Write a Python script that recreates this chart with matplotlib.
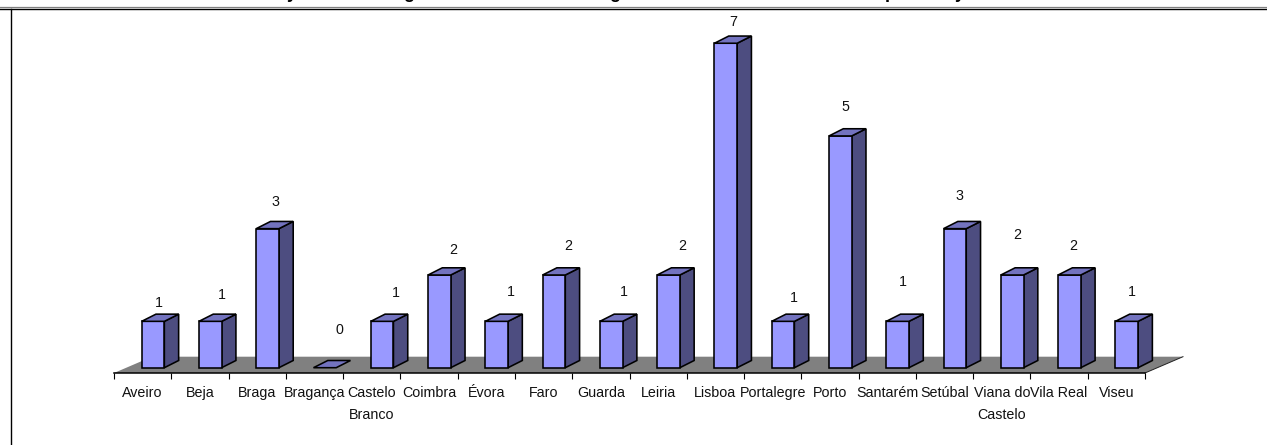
import matplotlib
matplotlib.use('Agg')
import matplotlib.pyplot as plt
from matplotlib.patches import Polygon
from matplotlib.lines import Line2D

W, H = 1267, 445

districts = ['Aveiro', 'Beja', 'Braga', 'Bragança', 'Castelo\nBranco', 'Coimbra', 'Évora', 'Faro',
             'Guarda', 'Leiria', 'Lisboa', 'Portalegre', 'Porto', 'Santarém', 'Setúbal',
             'Viana do\nCastelo', 'Vila Real', 'Viseu']
counts = [1, 1, 3, 0, 1, 2, 1, 2, 1, 2, 7, 1, 5, 1, 3, 2, 2, 1]

# the data labels sit at odd places in the original, offsets in pixels from the bar top
label_dx = [6, 12, 8, 15, 14, 14, 14, 14, 13, 14, 7, 11, 5, 5.5, 5, 5, 4, 5]
label_dy = [18, 26, 27, 38, 28, 25, 29, 29, 29, 29, 21, 23, 29, 39, 33, 40, 29, 29]

# what is left of the title, only the descenders show above the frame
title_letters = ['y', 'g', 'g', 'p', 'y']
title_x = [292, 409, 615, 890, 960]

plt.rcParams['font.family'] = ['Liberation Sans', 'DejaVu Sans']

fig = plt.figure(figsize=(W / 100, H / 100), dpi=100)

# axes box in pixels
x_left, x_right = 114, 1145
y_axis, y_top = 373, 8
px_x = (x_right - x_left) / len(districts)
px_y = 46.35
y_zero = 367.7

ax = fig.add_axes([x_left / W, 1 - y_axis / H, (x_right - x_left) / W, (y_axis - y_top) / H])
ax.set_xlim(0, len(districts))
ax.set_ylim(-(y_axis - y_zero) / px_y, (y_zero - y_top) / px_y)
ax.patch.set_visible(False)
for s in ['top', 'left', 'right']:
    ax.spines[s].set_visible(False)
ax.spines['bottom'].set_linewidth(1.1)
ax.yaxis.set_visible(False)

ax.set_xticks(range(len(districts) + 1))
ax.set_xticklabels([])
ax.tick_params(axis='x', which='major', length=4.3, width=0.8)
ax.set_xticks([i + 0.5 for i in range(len(districts))], minor=True)
ax.set_xticklabels(districts, minor=True, fontsize=10.3, color='#111111', linespacing=1.75)
ax.tick_params(axis='x', which='minor', length=0, pad=9.2)

# floor
floor_dx = 38 / px_x
y0 = ax.get_ylim()[0]
floor_back = (y_zero - 356.7) / px_y
floor = Polygon([(0, y0), (floor_dx, floor_back), (len(districts) + floor_dx, floor_back), (len(districts), y0)],
                closed=True, facecolor='#808080', edgecolor='none', clip_on=False, zorder=1)
ax.add_patch(floor)
ax.plot([len(districts), len(districts) + floor_dx], [y0, floor_back], color='#222222', lw=0.7, clip_on=False, zorder=1.5)

# 3d bars
bar_c = (153 - x_left) / px_x
bar_w = 22.7 / px_x
dx = 14.3 / px_x
dy = 7.2 / px_y
edge = dict(edgecolor='black', linewidth=1.15, joinstyle='miter', clip_on=False, zorder=3)

for i, v in enumerate(counts):
    l = i + bar_c - bar_w / 2
    r = i + bar_c + bar_w / 2
    if v > 0:
        ax.add_patch(Polygon([(r, 0), (r + dx, dy), (r + dx, v + dy), (r, v)], facecolor='#4D4D80', **edge))
        ax.add_patch(Polygon([(l, 0), (r, 0), (r, v), (l, v)], facecolor='#9999FF', **edge))
    ax.add_patch(Polygon([(l, v), (r, v), (r + dx, v + dy), (l + dx, v + dy)], facecolor='#7373BF', **edge))
    ax.annotate(str(v), xy=(i + bar_c, v), xytext=(label_dx[i], label_dy[i]), textcoords='offset pixels',
                ha='center', va='center', fontsize=10.3, color='#111111', zorder=4)

# chart frame, cut by the picture on the right and bottom
fig.add_artist(Line2D([0, 1], [1 - 7.0 / H, 1 - 7.0 / H], color='#808080', lw=0.9))
fig.add_artist(Line2D([0, 1], [1 - 8.5 / H, 1 - 8.5 / H], color='black', lw=1.0))
fig.add_artist(Line2D([10.5 / W, 10.5 / W], [0, 1 - 8.5 / H], color='black', lw=1.0))

for letter, x in zip(title_letters, title_x):
    fig.text(x / W, 1 + 2.5 / H, letter, ha='center', va='baseline', fontsize=13, fontweight='bold', color='black')

fig.savefig('out.png', dpi=100)
